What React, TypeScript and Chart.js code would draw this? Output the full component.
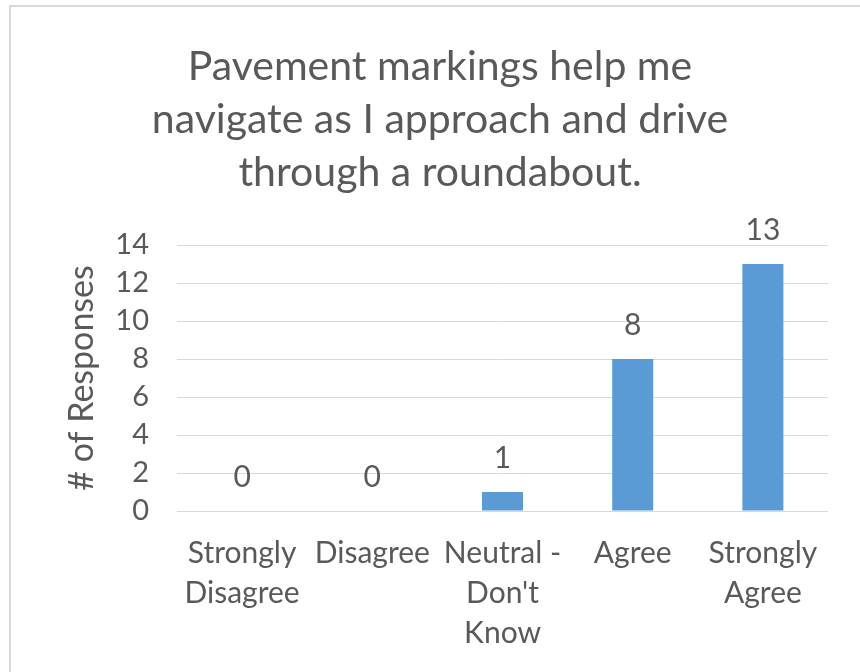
import React, { useEffect, useRef } from "react";
import { Chart, registerables } from "chart.js";

Chart.register(...registerables);

const titleLines = [
  "Pavement markings help me",
  "navigate as I approach and drive",
  "through a roundabout.",
];
const categories = [
  ["Strongly", "Disagree"],
  ["Disagree"],
  ["Neutral -", "Don't", "Know"],
  ["Agree"],
  ["Strongly", "Agree"],
];
const responses = [0, 0, 1, 8, 13];
const yAxisTitle = "# of Responses";
const yMin = 0;
const yMax = 14;
const yStep = 2;

const FONT = "Lato, 'Open Sans', sans-serif";
const TEXT = "#595959";

const dataLabelPlugin = {
  id: "dataLabels",
  afterDatasetsDraw(chart: any) {
    const ctx = chart.ctx;
    const meta = chart.getDatasetMeta(0);
    const ds = chart.data.datasets[0];
    ctx.save();
    ctx.font = `30px ${FONT}`;
    ctx.fillStyle = TEXT;
    ctx.textAlign = "center";
    ctx.textBaseline = "alphabetic";
    meta.data.forEach((el: any, i: number) => {
      ctx.fillText(String(ds.data[i]), el.x, el.y - 24);
    });
    ctx.restore();
  },
};

export default function App() {
  const ref = useRef<HTMLCanvasElement | null>(null);
  useEffect(() => {
    if (!ref.current) return;
    const chart = new Chart(ref.current, {
      type: "bar",
      data: {
        labels: categories,
        datasets: [
          {
            data: responses,
            backgroundColor: "#5b9bd5",
            borderWidth: 0,
            barPercentage: 0.315,
            categoryPercentage: 1,
          },
        ],
      },
      options: {
        responsive: false,
        animation: false,
        devicePixelRatio: 1,
        layout: { padding: { left: 52, right: 32, top: 0, bottom: 0 } },
        plugins: {
          legend: { display: false },
          tooltip: { enabled: false },
          title: {
            display: true,
            text: titleLines,
            color: TEXT,
            font: { family: FONT, size: 41, weight: "normal", lineHeight: 53 / 41 },
            padding: { top: 40, bottom: 46 },
          },
        },
        scales: {
          x: {
            grid: { display: false, drawTicks: false },
            border: { display: false },
            ticks: {
              color: TEXT,
              font: { family: FONT, size: 30, lineHeight: 40 / 30 },
              padding: 22,
              maxRotation: 0,
              autoSkip: false,
            },
            afterFit(scale: any) {
              scale.height = 672 - 511;
            },
          },
          y: {
            min: yMin,
            max: yMax,
            grid: { color: "#d9d9d9", lineWidth: 1, drawTicks: false },
            border: { display: false },
            ticks: {
              stepSize: yStep,
              color: TEXT,
              font: { family: FONT, size: 29 },
              padding: 28,
            },
            title: {
              display: true,
              text: yAxisTitle,
              color: TEXT,
              font: { family: FONT, size: 34 },
              padding: { top: 10, bottom: 0 },
            },
            afterFit(scale: any) {
              scale.width = 125;
            },
          },
        },
      },
      plugins: [dataLabelPlugin],
    });
    return () => chart.destroy();
  }, []);

  return (
    <div
      style={{
        position: "fixed",
        left: 0,
        top: 0,
        width: 860,
        height: 672,
        background: "#fff",
        overflow: "hidden",
      }}
    >
      <canvas ref={ref} width={860} height={672} style={{ position: "absolute", left: 0, top: 0 }} />
      <div
        style={{
          position: "absolute",
          left: 9,
          top: 5,
          width: 880,
          height: 700,
          border: "2px solid #d9d9d9",
          boxSizing: "border-box",
          pointerEvents: "none",
        }}
      />
    </div>
  );
}
